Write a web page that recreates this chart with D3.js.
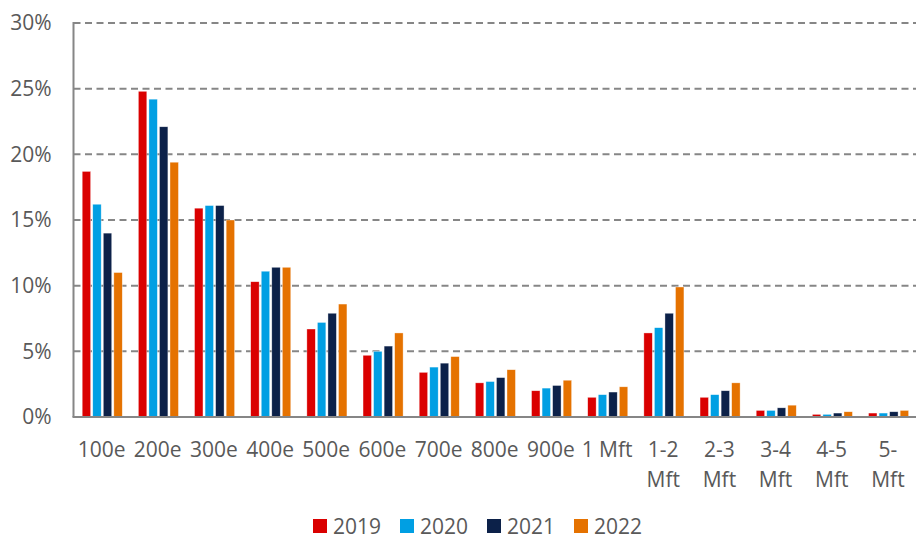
<!DOCTYPE html>
<html>
<head>
    <title>Distribution by size class</title>
    <script src="https://d3js.org/d3.v7.min.js"></script>
    <style>
        body {
            margin: 0;
            overflow: hidden;
            background: #fff;
        }
        text {
            font-family: "Open Sans", sans-serif;
            fill: #595959;
        }
    </style>
</head>
<body>
    <div id="chart"></div>
    <script>
        // Data (percent of total)
        const categories = ['100e', '200e', '300e', '400e', '500e', '600e', '700e', '800e', '900e',
                            '1 Mft', '1-2 Mft', '2-3 Mft', '3-4 Mft', '4-5 Mft', '5- Mft'];
        const years = ['2019', '2020', '2021', '2022'];
        const values2019 = [18.7, 24.8, 15.9, 10.3, 6.7, 4.7, 3.4, 2.6, 2.0, 1.5, 6.4, 1.5, 0.5, 0.2, 0.3];
        const values2020 = [16.2, 24.2, 16.1, 11.1, 7.2, 5.0, 3.8, 2.7, 2.2, 1.7, 6.8, 1.7, 0.5, 0.2, 0.3];
        const values2021 = [14.0, 22.1, 16.1, 11.4, 7.9, 5.4, 4.1, 3.0, 2.4, 1.9, 7.9, 2.0, 0.7, 0.3, 0.4];
        const values2022 = [11.0, 19.4, 15.0, 11.4, 8.6, 6.4, 4.6, 3.6, 2.8, 2.3, 9.9, 2.6, 0.9, 0.4, 0.5];
        const yTicks = [0, 5, 10, 15, 20, 25, 30];
        const colors = ['#DA0000', '#009FE3', '#0C2149', '#E57200'];

        const series = [values2019, values2020, values2021, values2022];
        const rows = categories.map((c, i) => ({
            category: c,
            values: years.map((y, j) => ({ year: y, value: series[j][i] }))
        }));

        const width = 916;
        const height = 538;
        const plotLeft = 73.5, plotRight = 916, plotTop = 23, plotBottom = 417;
        const fontSize = '21px';

        const svg = d3.select('#chart')
            .append('svg')
            .attr('width', width)
            .attr('height', height);

        const x0 = d3.scaleBand()
            .domain(categories)
            .range([plotLeft, plotRight]);

        const groupPad = x0.bandwidth() * 0.155;
        const x1 = d3.scaleBand()
            .domain(years)
            .range([groupPad, x0.bandwidth() - groupPad * 0.85])
            .paddingInner(0.2);

        const y = d3.scaleLinear()
            .domain([0, 30])
            .range([plotBottom, plotTop]);

        const color = d3.scaleOrdinal().domain(years).range(colors);

        // Dashed gridlines
        svg.append('g')
            .selectAll('line')
            .data(yTicks.filter(d => d > 0))
            .enter().append('line')
            .attr('x1', plotLeft)
            .attr('x2', plotRight)
            .attr('y1', d => y(d))
            .attr('y2', d => y(d))
            .style('stroke', '#868686')
            .style('stroke-width', 2)
            .style('stroke-dasharray', '7,4.5');

        // Y axis labels
        const yAxis = svg.append('g')
            .attr('transform', `translate(${plotLeft},0)`)
            .call(d3.axisLeft(y).tickValues(yTicks).tickSize(0).tickPadding(22).tickFormat(d => d + '%'));
        yAxis.select('.domain').remove();
        yAxis.selectAll('text')
            .style('font-size', fontSize)
            .style('fill', '#595959')
            .style('font-family', '"Open Sans", sans-serif');

        // Bars
        const groups = svg.append('g')
            .selectAll('g')
            .data(rows)
            .enter().append('g')
            .attr('transform', d => `translate(${x0(d.category)},0)`);

        groups.selectAll('rect')
            .data(d => d.values)
            .enter().append('rect')
            .attr('x', d => x1(d.year))
            .attr('width', x1.bandwidth())
            .attr('y', d => y(d.value))
            .attr('height', d => y(0) - y(d.value))
            .style('fill', d => color(d.year))
            .style('stroke', '#fff')
            .style('stroke-opacity', 0.6)
            .style('stroke-width', 0.6);

        // Axis lines
        svg.append('line')
            .attr('x1', plotLeft).attr('x2', plotLeft)
            .attr('y1', plotTop - 1).attr('y2', plotBottom)
            .style('stroke', '#868686')
            .style('stroke-width', 2);
        svg.append('line')
            .attr('x1', plotLeft - 1).attr('x2', plotRight)
            .attr('y1', plotBottom).attr('y2', plotBottom)
            .style('stroke', '#868686')
            .style('stroke-width', 2);

        // X axis labels (range labels wrap onto two lines)
        const xAxis = svg.append('g')
            .attr('transform', `translate(0,${plotBottom})`)
            .call(d3.axisBottom(x0).tickSize(0));
        xAxis.select('.domain').remove();
        xAxis.selectAll('text')
            .style('font-size', fontSize)
            .style('fill', '#595959')
            .style('font-family', '"Open Sans", sans-serif')
            .attr('dy', null)
            .attr('y', 40)
            .each(function(d) {
                if (d.includes('-')) {
                    const lines = d.split(' ');
                    const t = d3.select(this).text(null);
                    lines.forEach((l, i) => {
                        t.append('tspan')
                            .attr('x', 0)
                            .attr('y', 40 + i * 30)
                            .text(l);
                    });
                }
            });

        // Legend
        const legend = svg.append('g')
            .selectAll('g')
            .data(years)
            .enter().append('g')
            .attr('transform', (d, i) => `translate(${313 + i * 87},519)`);

        legend.append('rect')
            .attr('width', 14)
            .attr('height', 14)
            .style('fill', d => color(d));

        legend.append('text')
            .attr('x', 20)
            .attr('y', 14.5)
            .style('font-size', fontSize)
            .text(d => d);
    </script>
</body>
</html>
